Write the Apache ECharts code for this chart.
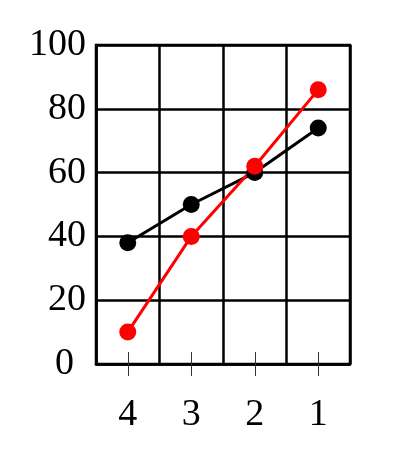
<!DOCTYPE html>
<html>
<head>
<meta charset="utf-8">
<script src="https://cdn.jsdelivr.net/npm/echarts@6/dist/echarts.min.js"></script>
<style>html,body{margin:0;padding:0;background:#fff;}#c{width:400px;height:468px;}</style>
</head>
<body>
<div id="c"></div>
<script>
const categories = ['4', '3', '2', '1'];
const blackValues = [38, 50, 60, 74];
const redValues = [10, 40, 62, 86];
const yMin = 0, yMax = 100, yInterval = 20;

const font = 'Liberation Serif';
const chart = echarts.init(document.getElementById('c'));
chart.setOption({
  animation: false,
  backgroundColor: '#fff',
  grid: { left: 96, right: 50, top: 45, bottom: 104, show: true, borderColor: '#000', borderWidth: 2.5, backgroundColor: 'transparent' },
  xAxis: [{
    type: 'category', data: categories, position: 'bottom', boundaryGap: true,
    axisLine: { show: true, lineStyle: { color: '#000', width: 2.5 } },
    axisTick: { show: true, alignWithLabel: true, inside: false, length: 12, lineStyle: { color: '#333', width: 1 } },
    axisLabel: { fontFamily: font, fontSize: 38, color: '#000', margin: 32 },
    splitLine: { show: true, lineStyle: { color: '#000', width: 2.5 } }
  }, {
    type: 'category', data: categories, position: 'bottom', boundaryGap: true,
    axisLine: { show: false },
    axisTick: { show: true, alignWithLabel: true, inside: true, length: 12, lineStyle: { color: '#333', width: 1 } },
    axisLabel: { show: false },
    splitLine: { show: false }
  }],
  yAxis: {
    type: 'value', min: yMin, max: yMax, interval: yInterval,
    axisLine: { show: true, lineStyle: { color: '#000', width: 2.5 } },
    axisTick: { show: false },
    axisLabel: {
      fontFamily: font, fontSize: 38, color: '#000', margin: 10,
      formatter: v => v === 0 ? '{z|0}' : String(v),
      rich: { z: { fontFamily: font, fontSize: 38, color: '#000', padding: [0, 12, 0, 0] } }
    },
    splitLine: { show: true, lineStyle: { color: '#000', width: 2.5 } }
  },
  series: [{
    type: 'line', data: blackValues, xAxisIndex: 0,
    symbol: 'circle', symbolSize: 17,
    lineStyle: { color: '#000', width: 3 },
    itemStyle: { color: '#000' }
  }, {
    type: 'line', data: redValues, xAxisIndex: 0,
    symbol: 'circle', symbolSize: 17,
    lineStyle: { color: '#ff0000', width: 3 },
    itemStyle: { color: '#ff0000' }
  }]
});
</script>
</body>
</html>
